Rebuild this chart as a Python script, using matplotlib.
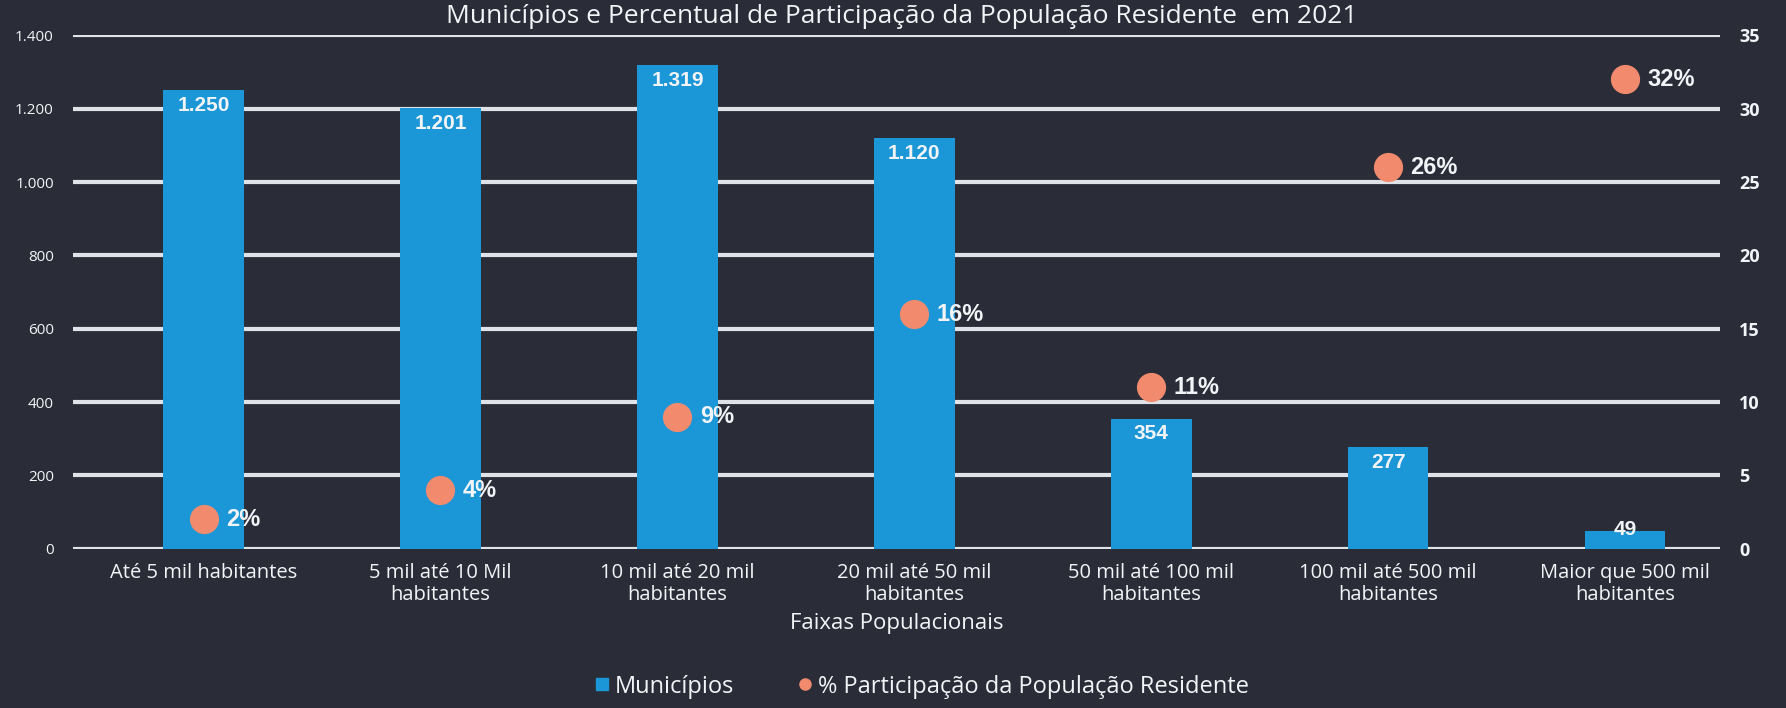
import matplotlib.pyplot as plt
import numpy as np
from matplotlib.ticker import FuncFormatter, MultipleLocator
from matplotlib.lines import Line2D

# dados
faixas = ['Até 5 mil habitantes', '5 mil até 10 Mil\nhabitantes', '10 mil até 20 mil\nhabitantes',
          '20 mil até 50 mil\nhabitantes', '50 mil até 100 mil\nhabitantes',
          '100 mil até 500 mil\nhabitantes', 'Maior que 500 mil\nhabitantes']
municipios = [1250, 1201, 1319, 1120, 354, 277, 49]
participacao = [2, 4, 9, 16, 11, 26, 32]

bg = '#2a2d37'
bar_color = '#1b96d6'
dot_color = '#f28b6e'
grid_color = '#dfe3e8'
txt = '#f2f4f7'

plt.rcParams['font.family'] = ['Open Sans', 'DejaVu Sans']

fig = plt.figure(figsize=(17.86, 7.08), dpi=100, facecolor=bg)
ax = fig.add_axes([0.041, 0.225, 0.922, 0.725], facecolor=bg)
ax2 = ax.twinx()

x = np.arange(len(faixas))
bars = ax.bar(x, municipios, width=0.34, color=bar_color, zorder=3)

ax.set_ylim(0, 1400)
ax.set_xlim(-0.55, 6.4)
ax.yaxis.set_major_locator(MultipleLocator(200))
ax.yaxis.set_major_formatter(FuncFormatter(lambda v, p: f'{v:,.0f}'.replace(',', '.')))
ax.grid(axis='y', color=grid_color, linewidth=3, zorder=1)
ax.set_axisbelow(True)
for s in ax.spines.values():
    s.set_visible(False)
for s in ax2.spines.values():
    s.set_visible(False)
ax.tick_params(axis='y', length=0, pad=14, colors=txt, labelsize=11)
ax.tick_params(axis='x', length=0, pad=10, colors=txt, labelsize=14.5)
ax.set_xticks(x)
ax.set_xticklabels(faixas, linespacing=1.15)
ax.set_xlabel('Faixas Populacionais', color=txt, fontsize=16, labelpad=6)

# rotulos das barras
for xi, v in zip(x, municipios):
    lab = f'{v:,}'.replace(',', '.')
    if v < 100:
        ax.annotate(lab, (xi, v), xytext=(0, -6), textcoords='offset points', ha='center', va='bottom',
                    color=txt, fontsize=15, fontweight='bold', family='Liberation Sans', zorder=5)
    else:
        ax.annotate(lab, (xi, v), xytext=(0, -4), textcoords='offset points', ha='center', va='top',
                    color=txt, fontsize=15, fontweight='bold', family='Liberation Sans', zorder=5)

ax2.set_ylim(0, 35)
ax2.yaxis.set_major_locator(MultipleLocator(5))
ax2.tick_params(axis='y', length=0, pad=14, colors=txt, labelsize=13)
for lb in ax2.get_yticklabels():
    lb.set_fontweight('bold')
ax2.plot(x, participacao, 'o', color=dot_color, markersize=20, linestyle='none', zorder=6)
for xi, p in zip(x, participacao):
    ax2.annotate(f'{p}%', (xi, p), xytext=(16, 0), textcoords='offset points', ha='left', va='center',
                 color=txt, fontsize=17, fontweight='bold', family='Liberation Sans', zorder=7)

fig.text(0.505, 0.977, 'Municípios e Percentual de Participação da População Residente  em 2021',
         ha='center', va='center', color=txt, fontsize=19)

handles = [Line2D([], [], marker='s', color=bar_color, linestyle='none', markersize=9),
           Line2D([], [], marker='o', color=dot_color, linestyle='none', markersize=8)]
fig.legend(handles, ['Municípios', '% Participação da População Residente'], loc='center',
           bbox_to_anchor=(0.515, 0.03), ncol=2, frameon=False, fontsize=17, labelcolor=txt,
           handletextpad=0.05, handlelength=1.0, columnspacing=2.5)

fig.savefig('out.png', dpi=100, facecolor=bg)
